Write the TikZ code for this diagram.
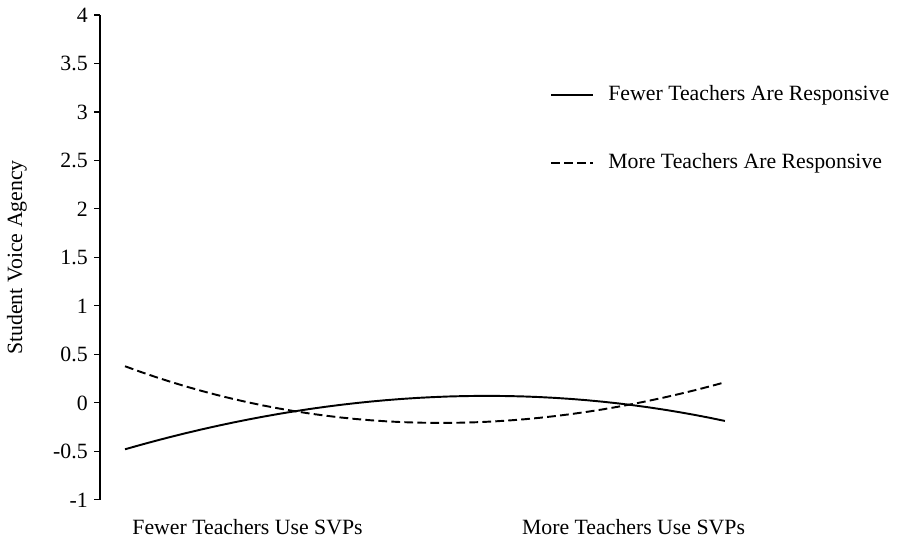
\documentclass[tikz,border=0pt]{standalone}
\usepackage{fontspec}
\setmainfont{Liberation Serif}
\usetikzlibrary{positioning}
\tikzset{font=\fontsize{12.4}{15}\selectfont}
\tikzset{curve/.style={line width=1.1pt, line join=round}}
\tikzset{dashcurve/.style={curve, dash pattern=on 5pt off 2.4pt}}
\tikzset{ticklabel/.style={anchor=east, inner sep=0pt}}

\begin{document}
\begin{tikzpicture}[x=0.02cm, y=1.94cm]
\useasboundingbox (0,-1.4845) rectangle (898,4.1546);
\draw[line width=0.6pt] (100,-1) -- (100,4);
\foreach \v in {-1,-0.5,0,0.5,1,1.5,2,2.5,3,3.5,4}{
  \draw[line width=0.6pt] (94,\v) -- (100,\v);
  \node[ticklabel] at (88,\v) {\v};
}
\node[rotate=90] (ylab) at (17,1.5) {Student Voice Agency};
\node (xlow) at (247.5,-1.278) {Fewer Teachers Use SVPs};
\node (xhigh) at (633.5,-1.278) {More Teachers Use SVPs};
% the two simple slopes
\draw[curve] plot[domain=0:1, samples=40] ({125+600*\x}, {-0.478+1.78*\x-1.36*\x^2-0.128*\x^3});
\draw[dashcurve] plot[domain=0:1, samples=40] ({125+600*\x}, {0.378-2.288*\x+2.366*\x^2-0.243*\x^3});
% legend
\coordinate (fewA) at (551,3.175);
\coordinate (fewB) at (593,3.175);
\coordinate (moreA) at (551,2.47);
\coordinate (moreB) at (593,2.47);
\draw[curve] (fewA) -- (fewB);
\draw[dashcurve] (moreA) -- (moreB);
\node[anchor=west, inner sep=0pt, right=15*0.02cm of fewB] (fewlab) {Fewer Teachers Are Responsive};
\node[anchor=west, inner sep=0pt, right=15*0.02cm of moreB] (morelab) {More Teachers Are Responsive};
\end{tikzpicture}
\end{document}
